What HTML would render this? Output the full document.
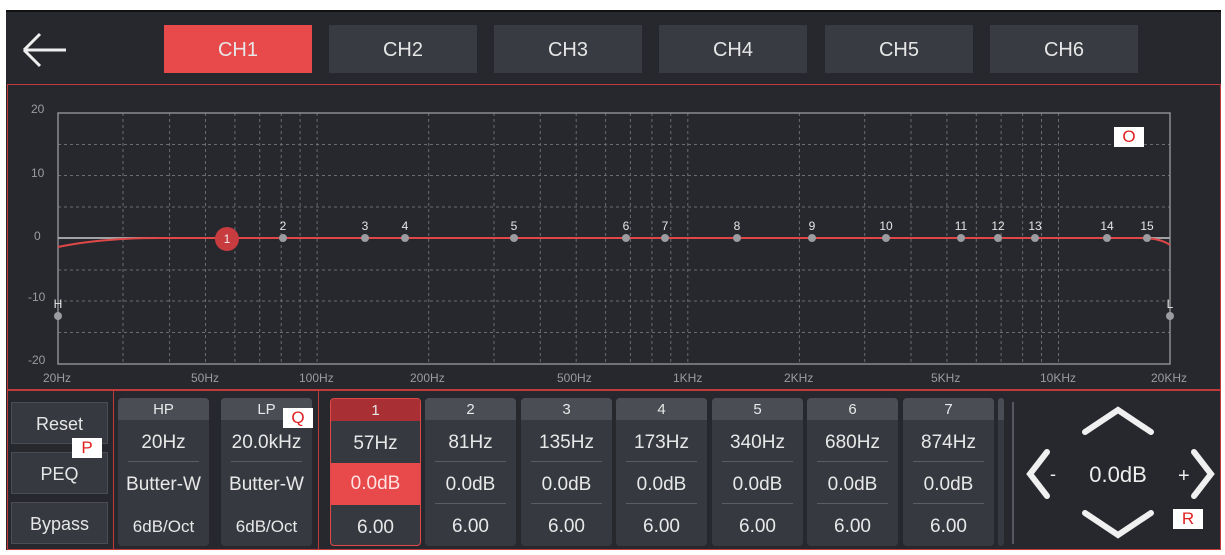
<!DOCTYPE html>
<html><head><meta charset="utf-8"><style>
*{margin:0;padding:0;box-sizing:border-box}
body{width:1225px;height:555px;background:#fff;position:relative;overflow:hidden;font-family:"Liberation Sans",sans-serif;color:#e8e8e8}
.a{position:absolute}
.app{left:6px;top:10px;width:1215px;height:540px;background:#26282d;border-top:2px solid #111}
.tab{top:25px;width:148px;height:48px;background:#383b42;font-size:20px;line-height:50px;text-align:center;color:#e6e6e6}
.btn{left:11px;width:97px;height:42px;background:#363940;border:1px solid #4a4d54;font-size:18px;line-height:42px;text-align:center;color:#e6e6e6}
.card{top:398px;width:91px;height:148px;background:#363940;border-radius:4px;overflow:hidden;text-align:center}
.card .h{height:22px;background:#4a4d54;font-size:15px;line-height:24px}
.card .r{height:42px;font-size:19px;line-height:46px;position:relative}
.card .r1:after,.card .r2:after{content:"";position:absolute;left:10px;right:10px;bottom:0;height:1px;background:#5a5d64}
.card .q{height:42px;font-size:19px;line-height:46px}
.lab{background:#fff;color:#e02020;font-size:17px;text-align:center;line-height:20px;width:30px;height:20px}
</style></head><body>
<div class="a app"></div>
<svg class="a" style="left:20px;top:30px" width="50" height="40"><path d="M4 20H46M4 20L20 4M4 20L20 36" stroke="#eee" stroke-width="3" fill="none"/></svg>
<div class="a tab" style="left:164px;background:#e84a4c">CH1</div>
<div class="a tab" style="left:329px">CH2</div>
<div class="a tab" style="left:494px">CH3</div>
<div class="a tab" style="left:659px">CH4</div>
<div class="a tab" style="left:825px">CH5</div>
<div class="a tab" style="left:990px">CH6</div>
<div class="a" style="left:7px;top:84px;width:1214px;height:306px;border:1px solid #c0393b"></div>
<div class="a" style="left:7px;top:390px;width:1214px;height:160px;border:1px solid #c0393b"></div>
<div class="a" style="left:113px;top:390px;width:1px;height:160px;background:#c0393b"></div>
<div class="a" style="left:318px;top:390px;width:1px;height:160px;background:#c0393b"></div>
<svg class="a" style="left:0;top:0" width="1225" height="555" font-family="Liberation Sans" font-size="12" fill="#9a9ca0">
<g stroke="#6a6c70" stroke-width="1" stroke-dasharray="3,3">
<path d="M58 144.5H1170M58 175.5H1170M58 207H1170M58 270H1170M58 301H1170M58 332.5H1170"/>
<path d="M123 113V364M169.6 113V364M205.5 113V364M234.9 113V364M259.7 113V364M281.2 113V364M300.1 113V364M317.1 113V364M428.7 113V364M494 113V364M540.3 113V364M576.2 113V364M605.6 113V364M630.4 113V364M651.9 113V364M670.8 113V364M687.8 113V364M799.4 113V364M864.7 113V364M911 113V364M946.9 113V364M976.3 113V364M1001.1 113V364M1022.6 113V364M1041.5 113V364M1058.5 113V364"/>
</g>
<rect x="58" y="113" width="1112" height="251" fill="none" stroke="#8a8c90" stroke-width="1.5"/>
<line x1="58" y1="238" x2="1170" y2="238" stroke="#a0a2a6" stroke-width="2"/>
<path d="M58 247 Q100 238 160 238 L1140 238 Q1160 238 1170 245" stroke="#e04848" stroke-width="2" fill="none"/>
<text x="31" y="113">20</text><text x="31" y="177">10</text><text x="34" y="240">0</text><text x="28" y="301">-10</text><text x="28" y="364">-20</text>
<text x="43" y="382">20Hz</text><text x="191" y="382">50Hz</text><text x="299" y="382">100Hz</text><text x="410" y="382">200Hz</text><text x="557" y="382">500Hz</text><text x="673" y="382">1KHz</text><text x="784" y="382">2KHz</text><text x="931" y="382">5KHz</text><text x="1040" y="382">10KHz</text><text x="1151" y="382">20KHz</text>
<g fill="#9a9ca0"><circle cx="58" cy="316" r="4"/><circle cx="1170" cy="316" r="4"/>
<circle cx="283" cy="238" r="4"/><circle cx="365" cy="238" r="4"/><circle cx="405" cy="238" r="4"/><circle cx="514" cy="238" r="4"/><circle cx="626" cy="238" r="4"/><circle cx="665" cy="238" r="4"/><circle cx="737" cy="238" r="4"/><circle cx="812" cy="238" r="4"/><circle cx="886" cy="238" r="4"/><circle cx="961" cy="238" r="4"/><circle cx="998" cy="238" r="4"/><circle cx="1035" cy="238" r="4"/><circle cx="1107" cy="238" r="4"/><circle cx="1147" cy="238" r="4"/></g>
<g fill="#e6e6e6" text-anchor="middle"><text x="58" y="308">H</text><text x="1170" y="308">L</text>
<text x="283" y="230">2</text><text x="365" y="230">3</text><text x="405" y="230">4</text><text x="514" y="230">5</text><text x="626" y="230">6</text><text x="665" y="230">7</text><text x="737" y="230">8</text><text x="812" y="230">9</text><text x="886" y="230">10</text><text x="961" y="230">11</text><text x="998" y="230">12</text><text x="1035" y="230">13</text><text x="1107" y="230">14</text><text x="1147" y="230">15</text></g>
<circle cx="227" cy="239" r="12" fill="#c83c40"/><text x="227" y="243" fill="#eee" text-anchor="middle">1</text>
<line x1="1013" y1="402" x2="1013" y2="544" stroke="#55585e" stroke-width="2"/>
<g stroke="#f0f0f0" stroke-width="6" fill="none" stroke-linecap="round"><path d="M1085 432L1118 410L1151 432"/><path d="M1085 513L1118 535L1151 513"/><path d="M1047 452L1030 474L1047 496"/><path d="M1194 452L1211 474L1194 496"/></g>
<text x="1050" y="480" fill="#eee" font-size="18">-</text><text x="1178" y="482" fill="#eee" font-size="20">+</text>
<text x="1118" y="482" fill="#eee" font-size="22" text-anchor="middle">0.0dB</text>
</svg>
<div class="a btn" style="top:402px">Reset</div>
<div class="a btn" style="top:452px">PEQ</div>
<div class="a btn" style="top:502px">Bypass</div>
<div class="a card" style="left:118px"><div class="h">HP</div><div class="r r1">20Hz</div><div class="r">Butter-W</div><div class="q" style="font-size:17px">6dB/Oct</div></div>
<div class="a card" style="left:221px"><div class="h">LP</div><div class="r r1">20.0kHz</div><div class="r">Butter-W</div><div class="q" style="font-size:17px">6dB/Oct</div></div>
<div class="a card" style="left:330px;border:1px solid #e04848"><div class="h" style="background:#a83034">1</div><div class="r">57Hz</div><div class="r" style="background:#e84a4c;color:#ffe0e0;line-height:42px">0.0dB</div><div class="q">6.00</div></div>
<div class="a card" style="left:425px"><div class="h">2</div><div class="r r1">81Hz</div><div class="r r2">0.0dB</div><div class="q">6.00</div></div>
<div class="a card" style="left:521px"><div class="h">3</div><div class="r r1">135Hz</div><div class="r r2">0.0dB</div><div class="q">6.00</div></div>
<div class="a card" style="left:616px"><div class="h">4</div><div class="r r1">173Hz</div><div class="r r2">0.0dB</div><div class="q">6.00</div></div>
<div class="a card" style="left:712px"><div class="h">5</div><div class="r r1">340Hz</div><div class="r r2">0.0dB</div><div class="q">6.00</div></div>
<div class="a card" style="left:807px"><div class="h">6</div><div class="r r1">680Hz</div><div class="r r2">0.0dB</div><div class="q">6.00</div></div>
<div class="a card" style="left:903px"><div class="h">7</div><div class="r r1">874Hz</div><div class="r r2">0.0dB</div><div class="q">6.00</div></div>
<div class="a card" style="left:998px;width:6px"><div class="h"></div></div>
<div class="a lab" style="left:1114px;top:127px">O</div>
<div class="a lab" style="left:72px;top:438px">P</div>
<div class="a lab" style="left:283px;top:408px">Q</div>
<div class="a lab" style="left:1173px;top:509px">R</div>
</body></html>
